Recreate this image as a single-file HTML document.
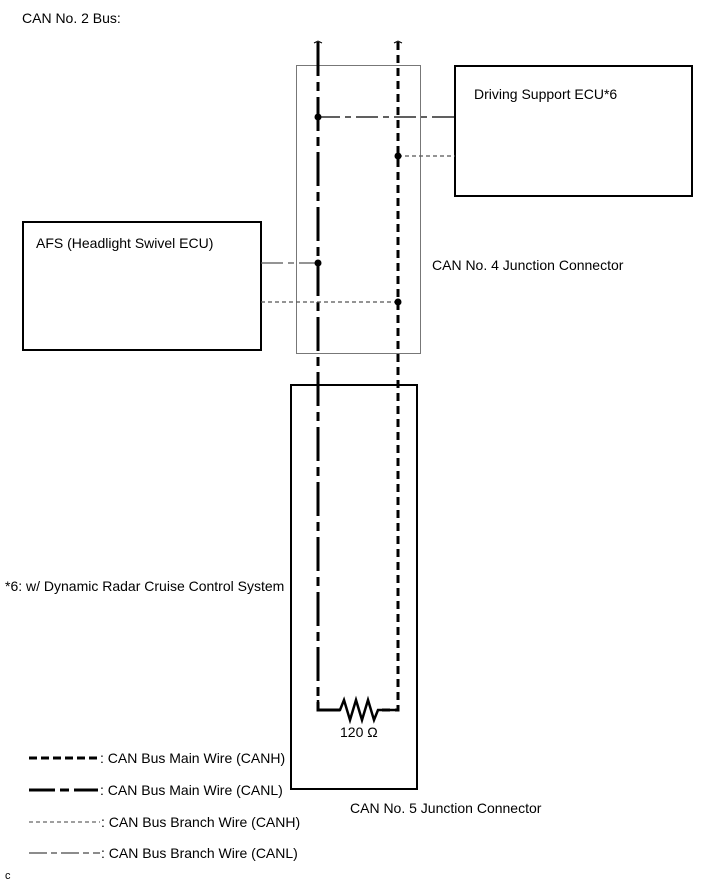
<!DOCTYPE html>
<html><head><style>
body{margin:0;background:#fff;}
svg text{font-family:"Liberation Sans",sans-serif;font-size:14px;fill:#000;}
</style></head><body>
<svg width="713" height="882" xmlns="http://www.w3.org/2000/svg">
<text x="22" y="23">CAN No. 2 Bus:</text>
<!-- boxes -->
<rect x="296.5" y="65.5" width="124" height="288" fill="none" stroke="#777" stroke-width="1"/>
<rect x="455" y="66" width="237" height="130" fill="none" stroke="#000" stroke-width="2"/>
<rect x="23" y="222" width="238" height="128" fill="none" stroke="#000" stroke-width="2"/>
<rect x="291" y="385" width="126" height="404" fill="none" stroke="#000" stroke-width="2"/>
<text x="474" y="99">Driving Support ECU*6</text>
<text x="36" y="248">AFS (Headlight Swivel ECU)</text>
<text x="432" y="270">CAN No. 4 Junction Connector</text>
<text x="350" y="813">CAN No. 5 Junction Connector</text>
<text x="5" y="591">*6: w/ Dynamic Radar Cruise Control System</text>
<!-- top breaks -->
<path d="M314 43 L318 41 L322 43 M394 43 L398 41 L402 43" stroke="#000" fill="none" stroke-width="1"/>
<!-- main wires -->
<path d="M318 42 V710 H340" stroke="#000" stroke-width="3" fill="none" stroke-dasharray="34,6,9,6"/>
<path d="M398 42 V710 H378" stroke="#000" stroke-width="3" fill="none" stroke-dasharray="8,5"/>
<path d="M318 700 V710 H340 L344 700 L350 720 L356 700 L362 720 L368 700 L374 720 L378 710 H398" stroke="#000" stroke-width="2.5" fill="none"/>
<text x="340" y="737">120 Ω</text>
<!-- branch wires -->
<path d="M318 117 H455" stroke="#000" stroke-width="1.2" stroke-dasharray="22,5,6,5"/>
<path d="M398 156 H455" stroke="#555" stroke-width="1.2" stroke-dasharray="4,3"/>
<path d="M261 263 H318" stroke="#555" stroke-width="1.2" stroke-dasharray="22,5,6,5"/>
<path d="M261 302 H398" stroke="#555" stroke-width="1.2" stroke-dasharray="4,3"/>
<circle cx="318" cy="117" r="3.5"/><circle cx="398" cy="156" r="3.5"/>
<circle cx="318" cy="263" r="3.5"/><circle cx="398" cy="302" r="3.5"/>
<!-- legend -->
<path d="M29 758 H98" stroke="#000" stroke-width="3" stroke-dasharray="8,4"/>
<text x="100" y="763">: CAN Bus Main Wire (CANH)</text>
<path d="M29 790 H98" stroke="#000" stroke-width="3" stroke-dasharray="26,5,9,5"/>
<text x="100" y="795">: CAN Bus Main Wire (CANL)</text>
<path d="M29 822 H100" stroke="#666" stroke-width="1.2" stroke-dasharray="4,3"/>
<text x="101" y="827">: CAN Bus Branch Wire (CANH)</text>
<path d="M29 853 H100" stroke="#666" stroke-width="1.5" stroke-dasharray="18,4,6,4"/>
<text x="101" y="858">: CAN Bus Branch Wire (CANL)</text>
<text x="5" y="879" style="font-size:11px">c</text>
</svg>
</body></html>
